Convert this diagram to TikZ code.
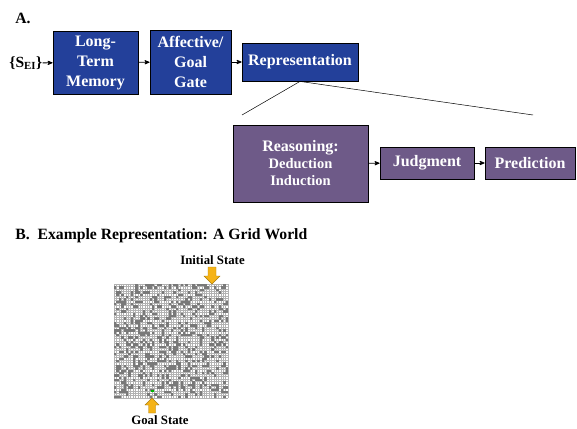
\documentclass[tikz,border=0pt]{standalone}
\usepackage{fontspec}
\setmainfont{Liberation Serif}
\usepackage{tikz}
\usetikzlibrary{arrows}
\definecolor{blkblue}{HTML}{23409A}
\definecolor{blkpurple}{HTML}{6E5A88}
\definecolor{arrgold}{HTML}{F5B316}
\tikzstyle{blk_b} = [rectangle, draw=black, fill=blkblue, text=white, font=\fontsize{16}{20}\selectfont\bfseries, align=center, inner sep=0pt, line width=0.8pt]
\tikzstyle{blk_p} = [rectangle, draw=black, fill=blkpurple, text=white, font=\fontsize{16}{17}\selectfont\bfseries, align=center, inner sep=0pt, line width=0.8pt]
\tikzstyle{lbl} = [font=\fontsize{15.7}{18}\selectfont\bfseries, inner sep=0pt]
\tikzstyle{lbl_s} = [font=\fontsize{12.8}{14}\selectfont\bfseries, inner sep=0pt]
\tikzstyle{arr_y} = [fill=arrgold, draw=arrgold!70!black, line width=0.4pt]

\begin{document}
\begin{tikzpicture}[->,>=stealth',x=1pt,y=-1pt,line width=0.8pt]
\useasboundingbox (0,0) rectangle (577,428);
% part A
\node [lbl, anchor=west] (la) at (15,18) {A.};
\node [font=\fontsize{15.5}{18}\selectfont\bfseries, inner sep=0pt, anchor=west] (sei) at (9,63) {\{S$_{\mathbf{EI}}$\}};
\node [blk_b, minimum width=85, minimum height=63] (ltm) at (95.5,62.5) {Long-\\Term\\Memory};
\node [blk_b, minimum width=81, minimum height=64] (gate) at (190.5,62) {Affective/\\Goal\\Gate};
\node [blk_b, minimum width=116, minimum height=38] (rep) at (300,62) {Representation};
\draw (sei) -- (ltm);
\draw (ltm) -- (gate);
\draw (gate) -- (rep);
% zoom lines
\coordinate (zl) at (242,115);
\coordinate (zr) at (533,115);
\draw [-, line width=0.5pt] (zl) -- (rep.south) -- (zr);
\node [blk_p, minimum width=135, minimum height=77] (reas) at (300.5,163.5) {Reasoning:\\{\fontsize{14.5}{17}\selectfont Deduction}\\{\fontsize{14.5}{17}\selectfont Induction}};
\node [blk_p, minimum width=94, minimum height=32] (judg) at (427,163) {Judgment};
\node [blk_p, minimum width=90, minimum height=32] (pred) at (530,163) {Prediction};
\draw (reas) -- (judg);
\draw (judg) -- (pred);
% part B
\node [lbl, anchor=west] (lb) at (15,236) {B.\ \ Example Representation: A Grid World};
\node [lbl_s] (init) at (212.5,260) {Initial State};
\node [lbl_s] (goal) at (160,420) {Goal State};
\begin{scope}[-, shift={(114,284)}]
  \pgfmathsetseed{4711}
  \fill [white] (0,0) rectangle (114,114);
  \foreach \k in {0,...,48} {
    \draw [gray!60, line width=0.3pt] ({\k*2.375},0) -- ({\k*2.375},114);
    \draw [gray!60, line width=0.3pt] (0,{\k*2.375}) -- (114,{\k*2.375});
  }
  % blocked cells on top of the mesh
  \foreach \i in {0,...,47} {
    \foreach \j in {0,...,47} {
      \pgfmathtruncatemacro{\cellval}{random(1,100)}
      \ifnum\cellval<28\relax
        \fill [gray!95!black] ({\i*2.375},{\j*2.375}) rectangle ({(\i+1)*2.375},{(\j+1)*2.375});
      \fi
    }
  }
  \fill [green!70!black] (37,105.5) rectangle ++(2.5,2.5);
\end{scope}
% state arrows
\draw [arr_y, -] (208,267) -- (216,267) -- (216,276) -- (220,276) -- (212,284) -- (204,276) -- (208,276) -- cycle;
\draw [arr_y, -] (148.5,413) -- (155.5,413) -- (155.5,405) -- (159,405) -- (152,398) -- (145,405) -- (148.5,405) -- cycle;
\end{tikzpicture}
\end{document}
